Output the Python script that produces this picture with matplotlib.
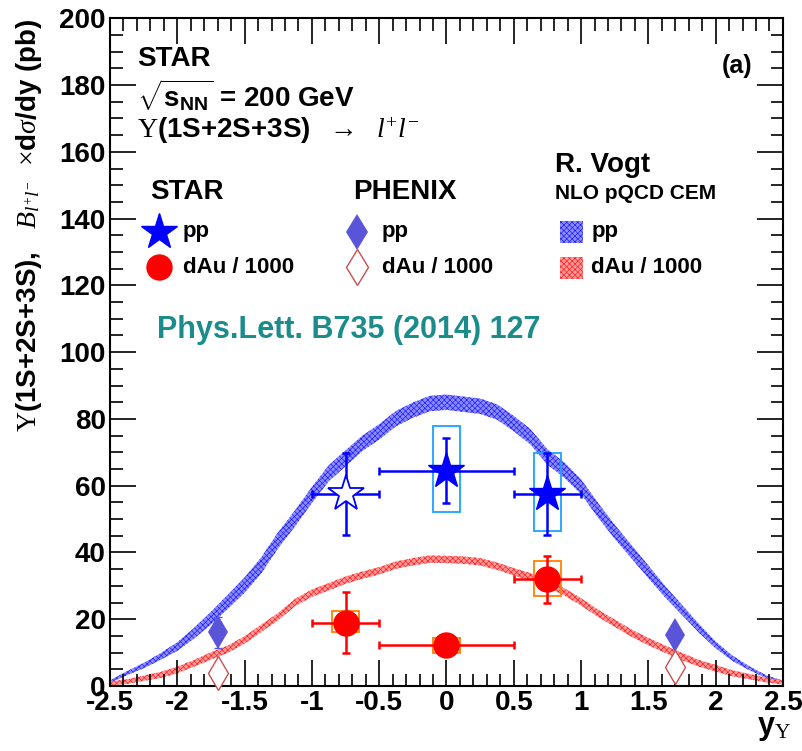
import matplotlib
matplotlib.use("Agg")
from matplotlib import pyplot as plt
from matplotlib.patches import Rectangle

plt.rcParams['font.family'] = ['Liberation Sans', 'DejaVu Sans']
plt.rcParams['mathtext.fontset'] = 'custom'
plt.rcParams['mathtext.rm'] = 'Liberation Serif'
plt.rcParams['mathtext.it'] = 'Liberation Serif:italic'
plt.rcParams['mathtext.bf'] = 'Liberation Sans:bold'
plt.rcParams['mathtext.sf'] = 'Liberation Sans:bold'
plt.rcParams['hatch.linewidth'] = 0.5

# STAR pp (first point is the open star)
star_pp_x = [-0.75, 0.0, 0.75]
star_pp_y = [57.5, 64.5, 57.5]
star_pp_xerr = [0.25, 0.5, 0.25]
star_pp_yerr = [12.2, 9.8, 12.2]
star_pp_sys_lo = [None, 52.1, 46.5]
star_pp_sys_hi = [None, 78.0, 69.7]

# STAR dAu / 1000
star_dau_x = [-0.75, 0.0, 0.75]
star_dau_y = [19.0, 12.2, 31.9]
star_dau_xerr = [0.25, 0.5, 0.25]
star_dau_yerr = [9.0, 0.5, 7.0]
star_dau_sys_lo = [16.1, 10.0, 26.9]
star_dau_sys_hi = [22.4, 14.4, 37.5]

# PHENIX
phenix_x = [-1.7, 1.7]
phenix_pp_y = [16.1, 15.3]
phenix_pp_yerr = [4.6, 0.0]
phenix_dau_y = [4.0, 5.8]

# R. Vogt NLO pQCD CEM bands (centre and half width)
vogt_x = [-2.5, -2.375, -2.25, -2.125, -2.0, -1.875, -1.75, -1.625, -1.5, -1.375,
          -1.25, -1.125, -1.0, -0.875, -0.75, -0.625, -0.5, -0.375, -0.25, -0.125,
          0.0, 0.125, 0.25, 0.375, 0.5, 0.625, 0.75, 0.875, 1.0, 1.125,
          1.25, 1.375, 1.5, 1.625, 1.75, 1.875, 2.0, 2.125, 2.25, 2.375, 2.5]
vogt_pp = [1.3, 3.8, 6.1, 8.8, 11.8, 15.8, 20.3, 25.2, 30.2, 36.2,
           43.7, 50.2, 57.2, 63.7, 68.2, 72.7, 76.1, 80.1, 82.6, 84.6,
           85.0, 84.4, 83.8, 82.1, 78.6, 74.6, 68.6, 64.7, 59.7, 52.7,
           46.2, 40.2, 34.2, 28.2, 22.8, 17.3, 12.3, 8.3, 5.3, 2.8, 1.3]
vogt_pp_hw = [0.4, 0.6, 0.8, 1.0, 1.3, 1.6, 1.9, 2.1, 2.3, 2.4,
              2.4, 2.4, 2.4, 2.4, 2.4, 2.3, 2.3, 2.3, 2.3, 2.3,
              2.3, 2.3, 2.3, 2.3, 2.3, 2.3, 2.3, 2.3, 2.2, 2.2,
              2.1, 2.0, 1.9, 1.7, 1.5, 1.3, 1.0, 0.8, 0.6, 0.4, 0.3]
vogt_dau = [0.8, 1.3, 2.3, 3.3, 4.8, 6.8, 9.0, 11.0, 13.8, 17.3,
            20.8, 25.0, 27.8, 29.7, 31.7, 33.2, 34.5, 36.2, 37.2, 38.0,
            37.9, 37.7, 37.2, 35.9, 34.2, 32.7, 30.7, 28.2, 25.2, 21.8,
            18.8, 15.8, 13.3, 11.0, 8.8, 6.8, 5.3, 3.8, 2.8, 1.8, 1.0]
vogt_dau_hw = [0.6, 0.7, 0.8, 0.9, 1.0, 1.0, 1.1, 1.1, 1.1, 1.1,
               1.1, 1.1, 1.1, 1.1, 1.1, 1.1, 1.1, 1.1, 1.1, 1.1,
               1.1, 1.1, 1.1, 1.1, 1.1, 1.1, 1.1, 1.1, 1.1, 1.1,
               1.1, 1.1, 1.1, 1.1, 1.1, 1.0, 1.0, 0.9, 0.8, 0.7, 0.6]

fig = plt.figure(figsize=(8.03, 7.51), dpi=100)
ax = fig.add_axes([0.137, 0.0866, 0.838, 0.889])

blue = '#0000ff'
red = '#ff0000'
pp_face, pp_hatch = '#8c8cff', '#2020ff'
dau_face, dau_hatch = '#ff9a9a', '#ff2020'

ax.fill_between(vogt_x, [c - h for c, h in zip(vogt_pp, vogt_pp_hw)],
                [c + h for c, h in zip(vogt_pp, vogt_pp_hw)],
                facecolor=pp_face, edgecolor=pp_hatch, hatch='xxxxxx', linewidth=0, zorder=1)
ax.fill_between(vogt_x, [c - h for c, h in zip(vogt_dau, vogt_dau_hw)],
                [c + h for c, h in zip(vogt_dau, vogt_dau_hw)],
                facecolor=dau_face, edgecolor=dau_hatch, hatch='xxxxxx', linewidth=0, zorder=1)

# systematic boxes
for x, lo, hi in zip(star_pp_x, star_pp_sys_lo, star_pp_sys_hi):
    if lo is not None:
        ax.add_patch(Rectangle((x - 0.1, lo), 0.2, hi - lo, fill=False,
                               edgecolor='#1aa3ff', linewidth=1.3, zorder=2))
for x, lo, hi in zip(star_dau_x, star_dau_sys_lo, star_dau_sys_hi):
    ax.add_patch(Rectangle((x - 0.1, lo), 0.2, hi - lo, fill=False,
                           edgecolor='#ff8000', linewidth=1.3, zorder=2))

# STAR pp
ax.errorbar(star_pp_x, star_pp_y, xerr=star_pp_xerr, yerr=star_pp_yerr, fmt='none',
            ecolor=blue, elinewidth=1.8, capsize=3, capthick=1.8, zorder=3)
ax.plot(star_pp_x[:1], star_pp_y[:1], '*', color=blue, markerfacecolor='white',
        markersize=27, markeredgewidth=1.3, zorder=4)
ax.plot(star_pp_x[1:], star_pp_y[1:], '*', color=blue, markersize=27, zorder=4)

# STAR dAu
ax.errorbar(star_dau_x, star_dau_y, xerr=star_dau_xerr, yerr=star_dau_yerr, fmt='none',
            ecolor=red, elinewidth=1.8, capsize=3, capthick=1.8, zorder=3)
ax.plot(star_dau_x, star_dau_y, 'o', color=red, markersize=18, zorder=4)

# PHENIX
ax.errorbar(phenix_x, phenix_pp_y, yerr=phenix_pp_yerr, fmt='none',
            ecolor='#5a55d8', elinewidth=1.5, capsize=3, zorder=3)
ax.plot(phenix_x, phenix_pp_y, 'd', color='#5a55d8', markersize=17,
        markeredgewidth=0, zorder=4)
ax.plot(phenix_x, phenix_dau_y, 'd', color='#c85050', markerfacecolor='white',
        markersize=17, markeredgewidth=1.0, zorder=4, clip_on=False)

ax.set_xlim(-2.5, 2.5)
ax.set_ylim(0, 200)
ax.set_xticks([-2.5, -2, -1.5, -1, -0.5, 0, 0.5, 1, 1.5, 2, 2.5])
ax.set_xticklabels(['-2.5', '-2', '-1.5', '-1', '-0.5', '0', '0.5', '1', '1.5', '2', '2.5'])
ax.set_xticks([i / 10 for i in range(-25, 26)], minor=True)
ax.set_yticks(range(0, 201, 20))
ax.set_yticks(range(0, 201, 5), minor=True)
ax.tick_params(which='both', direction='in', top=True, right=True, width=1.2)
ax.tick_params(which='major', length=19)
ax.tick_params(which='minor', length=9)
ax.tick_params(axis='both', labelsize=20, pad=3)
for lab in ax.get_xticklabels() + ax.get_yticklabels():
    lab.set_fontweight('bold')
for sp in ax.spines.values():
    sp.set_linewidth(1.5)

# texts
tb = dict(transform=ax.transAxes, fontweight='bold')
ax.text(0.040, 0.939, 'STAR', fontsize=20, va='center', **tb)
ax.text(0.040, 0.885, r'$\sqrt{\mathbf{s}_{\mathbf{NN}}}$ = 200 GeV', fontsize=20, va='center', **tb)
ax.text(0.040, 0.831, r'$\Upsilon$(1S+2S+3S)  $\rightarrow$  $l^{+}l^{-}$', fontsize=20, va='center', **tb)
ax.text(0.932, 0.928, '(a)', fontsize=18, va='center', ha='center', **tb)

ax.text(0.059, 0.740, 'STAR', fontsize=20, va='center', **tb)
ax.text(0.361, 0.740, 'PHENIX', fontsize=20, va='center', **tb)
ax.text(0.661, 0.780, 'R. Vogt', fontsize=20, va='center', **tb)
ax.text(0.661, 0.737, 'NLO pQCD CEM', fontsize=15, va='center', **tb)

ax.plot([0.073], [0.680], '*', color=blue, markersize=27, transform=ax.transAxes, clip_on=False)
ax.text(0.1085, 0.680, 'pp', fontsize=16, va='center', **tb)
ax.plot([0.0735], [0.627], 'o', color=red, markersize=18, transform=ax.transAxes, clip_on=False)
ax.text(0.1085, 0.627, 'dAu / 1000', fontsize=16, va='center', **tb)

ax.plot([0.367], [0.680], 'd', color='#5a55d8', markersize=18, markeredgewidth=0,
        transform=ax.transAxes, clip_on=False)
ax.text(0.404, 0.680, 'pp', fontsize=16, va='center', **tb)
ax.plot([0.367], [0.627], 'd', color='#c85050', markerfacecolor='white', markersize=18,
        markeredgewidth=1.0, transform=ax.transAxes, clip_on=False)
ax.text(0.404, 0.627, 'dAu / 1000', fontsize=16, va='center', **tb)

ax.add_patch(Rectangle((0.668, 0.663), 0.035, 0.034, transform=ax.transAxes,
                       facecolor=pp_face, edgecolor=pp_hatch, hatch='xxxxxx', linewidth=0))
ax.text(0.715, 0.680, 'pp', fontsize=16, va='center', **tb)
ax.add_patch(Rectangle((0.668, 0.609), 0.035, 0.034, transform=ax.transAxes,
                       facecolor=dau_face, edgecolor=dau_hatch, hatch='xxxxxx', linewidth=0))
ax.text(0.715, 0.627, 'dAu / 1000', fontsize=16, va='center', **tb)

ax.text(0.070, 0.533, 'Phys.Lett. B735 (2014) 127', fontsize=22, color='#1a8c8c',
        va='center', **tb)

fig.text(0.036, 0.975,
         r'$\Upsilon$(1S+2S+3S),   $\mathit{B}_{l^{+}l^{-}}$  $\times$d$\sigma$/dy (pb)',
         rotation=90, ha='center', va='top', fontsize=20, fontweight='bold')
fig.text(0.985, 0.022, r'$\mathbf{y}_{\Upsilon}$', ha='right', va='baseline', fontsize=22)

fig.savefig('out.png', dpi=100)
